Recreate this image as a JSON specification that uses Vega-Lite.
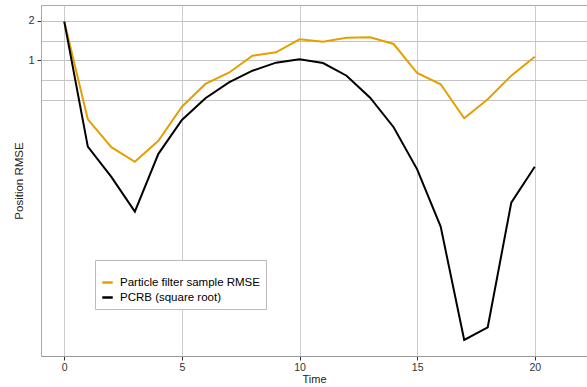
{
  "$schema": "https://vega.github.io/schema/vega-lite/v6.json",
  "width": 546,
  "height": 351,
  "autosize": {"type": "none"},
  "padding": {"left": 41, "top": 5, "right": 0, "bottom": 31},
  "background": "white",
  "config": {
    "font": "Liberation Sans",
    "view": {"stroke": "#aaaaaa", "strokeWidth": 1}
  },
  "data": {
    "values": [
      {"time": 0, "series": "Particle filter sample RMSE", "rmse": 1.98},
      {"time": 1, "series": "Particle filter sample RMSE", "rmse": 0.353},
      {"time": 2, "series": "Particle filter sample RMSE", "rmse": 0.216},
      {"time": 3, "series": "Particle filter sample RMSE", "rmse": 0.167},
      {"time": 4, "series": "Particle filter sample RMSE", "rmse": 0.242},
      {"time": 5, "series": "Particle filter sample RMSE", "rmse": 0.441},
      {"time": 6, "series": "Particle filter sample RMSE", "rmse": 0.659},
      {"time": 7, "series": "Particle filter sample RMSE", "rmse": 0.803},
      {"time": 8, "series": "Particle filter sample RMSE", "rmse": 1.084},
      {"time": 9, "series": "Particle filter sample RMSE", "rmse": 1.152},
      {"time": 10, "series": "Particle filter sample RMSE", "rmse": 1.448},
      {"time": 11, "series": "Particle filter sample RMSE", "rmse": 1.388},
      {"time": 12, "series": "Particle filter sample RMSE", "rmse": 1.49},
      {"time": 13, "series": "Particle filter sample RMSE", "rmse": 1.5},
      {"time": 14, "series": "Particle filter sample RMSE", "rmse": 1.333},
      {"time": 15, "series": "Particle filter sample RMSE", "rmse": 0.799},
      {"time": 16, "series": "Particle filter sample RMSE", "rmse": 0.655},
      {"time": 17, "series": "Particle filter sample RMSE", "rmse": 0.359},
      {"time": 18, "series": "Particle filter sample RMSE", "rmse": 0.503},
      {"time": 19, "series": "Particle filter sample RMSE", "rmse": 0.762},
      {"time": 20, "series": "Particle filter sample RMSE", "rmse": 1.066},
      {"time": 0, "series": "PCRB (square root)", "rmse": 1.98},
      {"time": 1, "series": "PCRB (square root)", "rmse": 0.218},
      {"time": 2, "series": "PCRB (square root)", "rmse": 0.128},
      {"time": 3, "series": "PCRB (square root)", "rmse": 0.0693},
      {"time": 4, "series": "PCRB (square root)", "rmse": 0.192},
      {"time": 5, "series": "PCRB (square root)", "rmse": 0.349},
      {"time": 6, "series": "PCRB (square root)", "rmse": 0.512},
      {"time": 7, "series": "PCRB (square root)", "rmse": 0.678},
      {"time": 8, "series": "PCRB (square root)", "rmse": 0.832},
      {"time": 9, "series": "PCRB (square root)", "rmse": 0.959},
      {"time": 10, "series": "PCRB (square root)", "rmse": 1.018},
      {"time": 11, "series": "PCRB (square root)", "rmse": 0.953},
      {"time": 12, "series": "PCRB (square root)", "rmse": 0.762},
      {"time": 13, "series": "PCRB (square root)", "rmse": 0.517},
      {"time": 14, "series": "PCRB (square root)", "rmse": 0.307},
      {"time": 15, "series": "PCRB (square root)", "rmse": 0.146},
      {"time": 16, "series": "PCRB (square root)", "rmse": 0.0532},
      {"time": 17, "series": "PCRB (square root)", "rmse": 0.0072},
      {"time": 18, "series": "PCRB (square root)", "rmse": 0.00901},
      {"time": 19, "series": "PCRB (square root)", "rmse": 0.0811},
      {"time": 20, "series": "PCRB (square root)", "rmse": 0.153}
    ]
  },
  "mark": {"type": "line", "strokeWidth": 2, "clip": true},
  "encoding": {
    "x": {
      "field": "time",
      "type": "quantitative",
      "scale": {"domain": [-0.99, 22.22], "nice": false, "zero": false},
      "axis": {
        "values": [0, 5, 10, 15, 20],
        "grid": true,
        "gridColor": "#cccccc",
        "domainColor": "#999999",
        "tickColor": "#333333",
        "tickSize": 4,
        "labelFontSize": 10.5,
        "labelColor": "#333333",
        "labelPadding": 2,
        "labelFlush": false,
        "title": "Time",
        "titleFontSize": 11,
        "titleFontWeight": "normal",
        "titleColor": "#222222",
        "titlePadding": 1
      }
    },
    "y": {
      "field": "rmse",
      "type": "quantitative",
      "scale": {"type": "log", "domain": [0.00543, 2.652], "nice": false},
      "axis": {
        "values": [0.5, 0.70711, 1, 1.41421, 2],
        "labelExpr": "datum.value == 2 ? '2' : (datum.value == 1 ? '1' : '')",
        "grid": true,
        "gridColor": "#c4c4c4",
        "domainColor": "#aaaaaa",
        "tickColor": {"condition": {"test": "datum.value == 1 || datum.value == 2", "value": "#333333"}, "value": "transparent"},
        "tickSize": 4,
        "labelFontSize": 11,
        "labelColor": "#333333",
        "labelPadding": 3,
        "labelFlush": false,
        "labelOverlap": false,
        "title": "Position RMSE",
        "titleFontSize": 11.5,
        "titleFontWeight": "normal",
        "titleColor": "#222222",
        "titlePadding": 3
      }
    },
    "color": {
      "field": "series",
      "type": "nominal",
      "scale": {
        "domain": ["Particle filter sample RMSE", "PCRB (square root)"],
        "range": ["#E69F00", "#000000"]
      },
      "legend": {
        "orient": "none",
        "legendX": 54,
        "legendY": 255,
        "title": " ",
        "titleFontSize": 6,
        "titlePadding": 4,
        "padding": 6,
        "strokeColor": "#bbbbbb",
        "fillColor": "white",
        "symbolType": "stroke",
        "symbolSize": 110,
        "symbolStrokeWidth": 2.5,
        "labelFontSize": 11.5,
        "labelColor": "#000000",
        "labelOffset": 6,
        "rowPadding": 3
      }
    }
  }
}
